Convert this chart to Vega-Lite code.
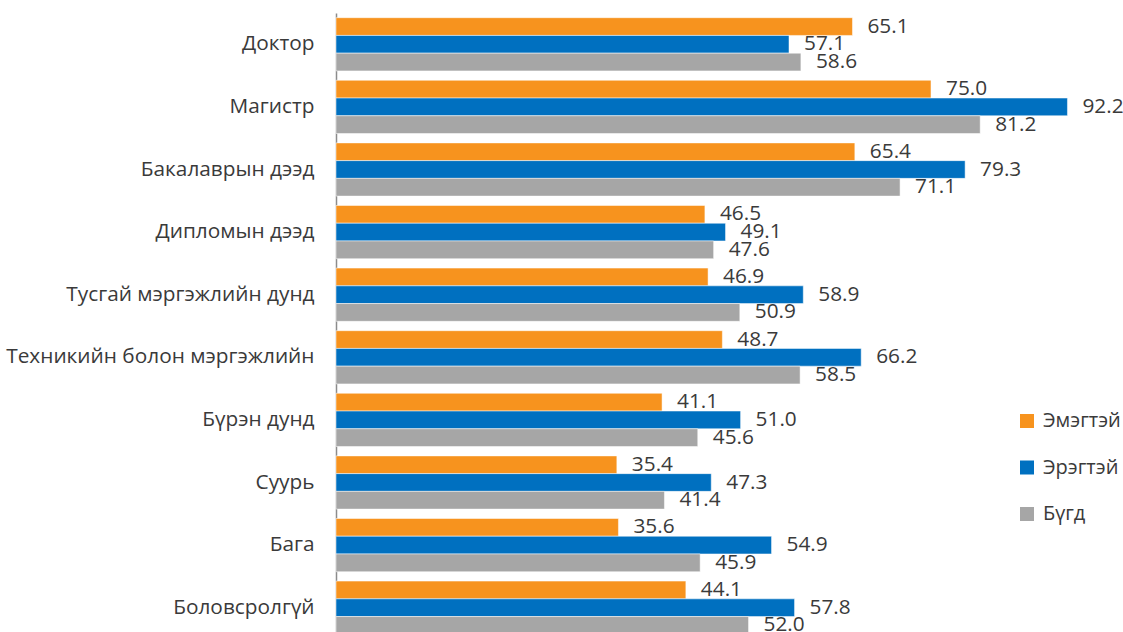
{
  "$schema": "https://vega.github.io/schema/vega-lite/v6.json",
  "autosize": "none",
  "padding": {"left": 336, "top": 13, "right": 0, "bottom": 0},
  "width": 787,
  "height": 619,
  "background": "white",
  "config": {
    "view": {"stroke": null},
    "font": "Open Sans",
    "text": {"font": "Open Sans"}
  },
  "data": {
    "values": [
      {"cat": "Доктор", "g": "Эмэгтэй", "v": 65.1},
      {"cat": "Доктор", "g": "Эрэгтэй", "v": 57.1},
      {"cat": "Доктор", "g": "Бүгд", "v": 58.6},
      {"cat": "Магистр", "g": "Эмэгтэй", "v": 75.0},
      {"cat": "Магистр", "g": "Эрэгтэй", "v": 92.2},
      {"cat": "Магистр", "g": "Бүгд", "v": 81.2},
      {"cat": "Бакалаврын дээд", "g": "Эмэгтэй", "v": 65.4},
      {"cat": "Бакалаврын дээд", "g": "Эрэгтэй", "v": 79.3},
      {"cat": "Бакалаврын дээд", "g": "Бүгд", "v": 71.1},
      {"cat": "Дипломын дээд", "g": "Эмэгтэй", "v": 46.5},
      {"cat": "Дипломын дээд", "g": "Эрэгтэй", "v": 49.1},
      {"cat": "Дипломын дээд", "g": "Бүгд", "v": 47.6},
      {"cat": "Тусгай мэргэжлийн дунд", "g": "Эмэгтэй", "v": 46.9},
      {"cat": "Тусгай мэргэжлийн дунд", "g": "Эрэгтэй", "v": 58.9},
      {"cat": "Тусгай мэргэжлийн дунд", "g": "Бүгд", "v": 50.9},
      {"cat": "Техникийн болон мэргэжлийн", "g": "Эмэгтэй", "v": 48.7},
      {"cat": "Техникийн болон мэргэжлийн", "g": "Эрэгтэй", "v": 66.2},
      {"cat": "Техникийн болон мэргэжлийн", "g": "Бүгд", "v": 58.5},
      {"cat": "Бүрэн дунд", "g": "Эмэгтэй", "v": 41.1},
      {"cat": "Бүрэн дунд", "g": "Эрэгтэй", "v": 51.0},
      {"cat": "Бүрэн дунд", "g": "Бүгд", "v": 45.6},
      {"cat": "Суурь", "g": "Эмэгтэй", "v": 35.4},
      {"cat": "Суурь", "g": "Эрэгтэй", "v": 47.3},
      {"cat": "Суурь", "g": "Бүгд", "v": 41.4},
      {"cat": "Бага", "g": "Эмэгтэй", "v": 35.6},
      {"cat": "Бага", "g": "Эрэгтэй", "v": 54.9},
      {"cat": "Бага", "g": "Бүгд", "v": 45.9},
      {"cat": "Боловсролгүй", "g": "Эмэгтэй", "v": 44.1},
      {"cat": "Боловсролгүй", "g": "Эрэгтэй", "v": 57.8},
      {"cat": "Боловсролгүй", "g": "Бүгд", "v": 52.0}
    ]
  },
  "encoding": {
    "y": {
      "field": "cat",
      "type": "nominal",
      "sort": null,
      "title": null,
      "scale": {"range": [0, 626], "paddingInner": 0.15, "paddingOuter": 0.075},
      "axis": {
        "domainColor": "#8c8c8c",
        "domainWidth": 1.5,
        "ticks": false,
        "labelPadding": 22,
        "labelFontSize": 20.8,
        "labelFont": "Open Sans",
        "labelColor": "#3a3a3a",
        "labelLimit": 400
      }
    },
    "yOffset": {
      "field": "g",
      "type": "nominal",
      "sort": ["Эмэгтэй", "Эрэгтэй", "Бүгд"],
      "scale": {"paddingInner": 0, "paddingOuter": 0}
    },
    "x": {
      "field": "v",
      "type": "quantitative",
      "title": null,
      "scale": {"domain": [0, 99.2], "nice": false, "zero": true},
      "axis": null
    }
  },
  "layer": [
    {
      "mark": {"type": "bar", "stroke": "white", "strokeWidth": 0.5},
      "encoding": {
        "color": {
          "field": "g",
          "type": "nominal",
          "sort": ["Эмэгтэй", "Эрэгтэй", "Бүгд"],
          "scale": {
            "domain": ["Эмэгтэй", "Эрэгтэй", "Бүгд"],
            "range": ["#F7931E", "#0070C0", "#A6A6A6"]
          },
          "legend": {
            "title": null,
            "orient": "none",
            "legendX": 681,
            "legendY": 398,
            "symbolType": "square",
            "symbolSize": 196,
            "symbolStrokeWidth": 0,
            "labelFontSize": 20,
            "labelFont": "Open Sans",
            "labelColor": "#3a3a3a",
            "labelOffset": 6,
            "rowPadding": 26.5
          }
        }
      }
    },
    {
      "mark": {
        "type": "text",
        "align": "left",
        "baseline": "middle",
        "dx": 15,
        "fontSize": 20.8,
        "font": "Open Sans",
        "color": "#3a3a3a"
      },
      "encoding": {
        "text": {"field": "v", "type": "quantitative", "format": ".1f"}
      }
    }
  ]
}
